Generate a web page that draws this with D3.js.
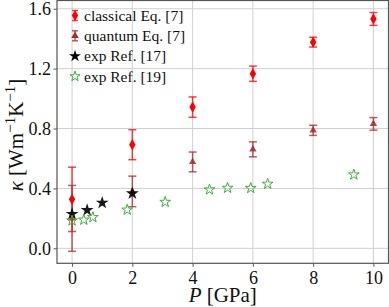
<!DOCTYPE html>
<html><head><meta charset="utf-8"><script src="https://cdn.jsdelivr.net/npm/d3@7"></script></head>
<body style="margin:0">
<script>
// theory points (pressure in GPa, kappa, error)
const theoryP = [0, 2, 4, 6, 8, 10];
const classicalK = [0.327, 0.692, 0.943, 1.166, 1.377, 1.532];
const classicalErr = [0.215, 0.1, 0.068, 0.051, 0.033, 0.043];
const quantumK = [0.2, 0.38, 0.577, 0.661, 0.788, 0.831];
const quantumErr = [0.22, 0.102, 0.066, 0.05, 0.034, 0.042];

// experiments
const exp17P = [0, 0.5, 1.0, 2.0];
const exp17K = [0.229, 0.255, 0.304, 0.367];
const exp19P = [0, 0.39, 0.69, 1.83, 3.09, 4.56, 5.16, 5.93, 6.49, 9.35];
const exp19K = [0.185, 0.19, 0.207, 0.257, 0.309, 0.392, 0.403, 0.402, 0.43, 0.492];

const xTicks = [0, 2, 4, 6, 8, 10];
const yTicks = [0.0, 0.4, 0.8, 1.2, 1.6];
const legendLabels = ["classical Eq. [7]", "quantum Eq. [7]", "exp Ref. [17]", "exp Ref. [19]"];

const serifName = "Liberation Serif";

const conf = {
  width: 389,
  height: 307,
  marginTop: 0.5,
  marginRight: 0.5,
  marginBottom: 43.7,
  marginLeft: 57,
  red: "#ff0000",
  brown: "#a52a2a",
  green: "#3fae3f",
};

// put the serif face on a text selection
function serif(sel, size) {
  sel.style("font-family", () => `"${serifName}"`)
    .attr("font-size", size)
    .attr("fill", "#111");
}

const svg = d3.select("body").append("svg")
  .attr("width", conf.width)
  .attr("height", conf.height)
  .attr("font-family", serifName)
  .style("display", "block");

const x = d3.scaleLinear([-0.5, 10.5], [conf.marginLeft, conf.width - conf.marginRight]);
const y = d3.scaleLinear([-0.1, 1.655], [conf.height - conf.marginBottom, conf.marginTop]);

// grid
svg.append("g").selectAll("line").data(xTicks).join("line")
  .attr("x1", d => x(d)).attr("x2", d => x(d))
  .attr("y1", y.range()[0]).attr("y2", y.range()[1])
  .attr("stroke", "#d0d0d0").attr("stroke-width", 1);
svg.append("g").selectAll("line").data(yTicks).join("line")
  .attr("y1", d => y(d)).attr("y2", d => y(d))
  .attr("x1", x.range()[0]).attr("x2", x.range()[1])
  .attr("stroke", "#d0d0d0").attr("stroke-width", 1);

// axes
const xAxis = d3.axisBottom(x).tickValues(xTicks).tickFormat(d3.format("d")).tickSize(3.5).tickSizeOuter(0);
const yAxis = d3.axisLeft(y).tickValues(yTicks).tickFormat(d3.format(".1f")).tickSize(3.5).tickSizeOuter(0);
svg.append("g")
  .attr("transform", `translate(0,${y.range()[0]})`)
  .call(xAxis)
  .attr("font-family", null).attr("font-size", null)
  .call(g => g.select(".domain").remove())
  .call(g => g.selectAll("line").attr("stroke", "#555"))
  .call(g => g.selectAll("text").attr("dy", "0.8em").attr("y", 6).call(serif, 18));
svg.append("g")
  .attr("transform", `translate(${x.range()[0]},0)`)
  .call(yAxis)
  .attr("font-family", null).attr("font-size", null)
  .call(g => g.select(".domain").remove())
  .call(g => g.selectAll("line").attr("stroke", "#555"))
  .call(g => g.selectAll("text").attr("x", -6).call(serif, 18));

// frame
svg.append("rect")
  .attr("x", x.range()[0]).attr("y", y.range()[1])
  .attr("width", x.range()[1] - x.range()[0])
  .attr("height", y.range()[0] - y.range()[1])
  .attr("fill", "none").attr("stroke", "#555").attr("stroke-width", 1.2);

// error bars
function errorBars(px, vals, errs, color) {
  const g = svg.append("g").attr("stroke", color).attr("stroke-opacity", 0.75).attr("stroke-width", 1.5);
  px.forEach((p, i) => {
    const cx = x(p), top = y(vals[i] + errs[i]), bot = y(vals[i] - errs[i]);
    g.append("line").attr("x1", cx).attr("x2", cx).attr("y1", top).attr("y2", bot);
    g.append("line").attr("x1", cx - 4).attr("x2", cx + 4).attr("y1", top).attr("y2", top);
    g.append("line").attr("x1", cx - 4).attr("x2", cx + 4).attr("y1", bot).attr("y2", bot);
  });
}

const diamond = d3.symbol(d3.symbolDiamond, 36);
const triangle = d3.symbol(d3.symbolTriangle, 24);
const starBig = d3.symbol(d3.symbolStar, 52);
const starSmall = d3.symbol(d3.symbolStar, 36);

errorBars(theoryP, classicalK, classicalErr, conf.red);
svg.append("g").selectAll("path").data(theoryP).join("path")
  .attr("d", diamond)
  .attr("transform", (d, i) => `translate(${x(d)},${y(classicalK[i])})`)
  .attr("fill", conf.red);

errorBars(theoryP, quantumK, quantumErr, conf.brown);
svg.append("g").selectAll("path").data(theoryP).join("path")
  .attr("d", triangle)
  .attr("transform", (d, i) => `translate(${x(d)},${y(quantumK[i])})`)
  .attr("fill", conf.brown).attr("fill-opacity", 0.85);

svg.append("g").selectAll("path").data(exp17P).join("path")
  .attr("d", starBig)
  .attr("transform", (d, i) => `translate(${x(d)},${y(exp17K[i])})`)
  .attr("fill", "#000").attr("fill-opacity", 0.9);

svg.append("g").selectAll("path").data(exp19P).join("path")
  .attr("d", starSmall)
  .attr("transform", (d, i) => `translate(${x(d)},${y(exp19K[i])})`)
  .attr("fill", "none").attr("stroke", conf.green).attr("stroke-width", 1);

// legend
const legend = svg.append("g").attr("transform", "translate(75,0)");
legendLabels.forEach((label, i) => {
  const ly = 15.5 + i * 20.3;
  const row = legend.append("g").attr("transform", `translate(0,${ly})`);
  if (i < 2) {
    const c = i === 0 ? conf.red : conf.brown;
    const eg = row.append("g").attr("stroke", c).attr("stroke-opacity", 0.75).attr("stroke-width", 1.5);
    eg.append("line").attr("x1", 0).attr("x2", 0).attr("y1", -5).attr("y2", 5);
    eg.append("line").attr("x1", -3).attr("x2", 3).attr("y1", -5).attr("y2", -5);
    eg.append("line").attr("x1", -3).attr("x2", 3).attr("y1", 5).attr("y2", 5);
    row.append("path").attr("d", i === 0 ? diamond : triangle).attr("fill", c);
  } else if (i === 2) {
    row.append("path").attr("d", d3.symbol(d3.symbolStar, 45)).attr("fill", "#000");
  } else {
    row.append("path").attr("d", d3.symbol(d3.symbolStar, 32))
      .attr("fill", "none").attr("stroke", conf.green).attr("stroke-width", 1);
  }
  row.append("text")
    .attr("x", 9).attr("dy", "0.33em")
    .call(serif, 15.5)
    .text(label);
});

// axis labels
svg.append("text")
  .attr("x", (x.range()[0] + x.range()[1]) / 2).attr("y", 302)
  .attr("text-anchor", "middle")
  .call(serif, 21)
  .call(t => {
    t.append("tspan").attr("font-style", "italic").text("P");
    t.append("tspan").text(" [GPa]");
  });

svg.append("text")
  .attr("transform", `translate(23,135) rotate(-90)`)
  .attr("text-anchor", "middle")
  .call(serif, 21)
  .call(t => {
    t.append("tspan").attr("font-style", "italic").text("κ");
    t.append("tspan").text(" [Wm");
    t.append("tspan").attr("font-size", 15).attr("dy", -8).text("−1");
    t.append("tspan").attr("dy", 8).text("K");
    t.append("tspan").attr("font-size", 15).attr("dy", -8).text("−1");
    t.append("tspan").attr("dy", 8).text("]");
  });
</script>
</body>
</html>
